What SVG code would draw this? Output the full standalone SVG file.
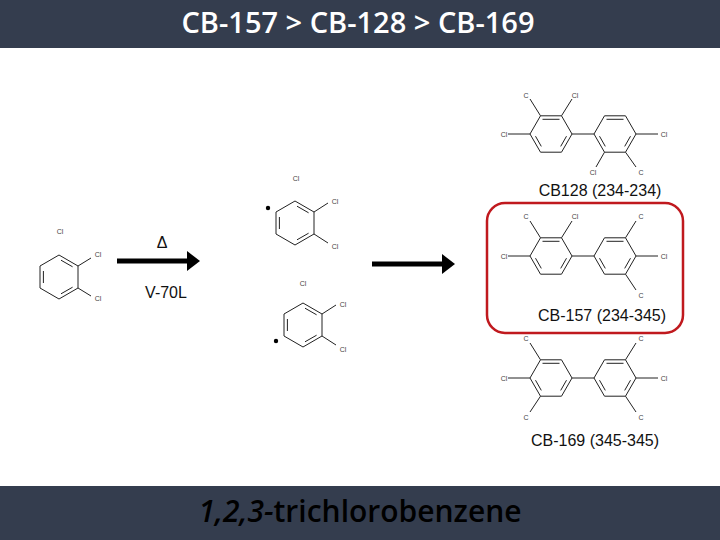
<svg xmlns="http://www.w3.org/2000/svg" xmlns:xlink="http://www.w3.org/1999/xlink" width="720" height="540" viewBox="0 0 720 540">
<style>
.b{stroke:#222;stroke-width:1;fill:none}
.cl{font-family:"Liberation Sans",Arial,sans-serif;font-size:7px;fill:#444;text-anchor:middle}
.lb{font-family:"Liberation Sans",Arial,sans-serif;font-size:16px;fill:#111;text-anchor:middle}
</style>
<defs>
<g id="fr" class="b">
<path d="M-21,0L-10.5,-18.2L10.5,-18.2L21,0L10.5,18.2L-10.5,18.2Z"/>
<path d="M-8.5,-14.7L8.5,-14.7M15.5,2.2L9.7,12.4M-15.5,2.2L-9.7,12.4"/>
</g>
<g id="pr" class="b">
<path d="M0,-22L19,-11L19,11L0,22L-19,11L-19,-11Z"/>
<path d="M2,-16.8L13.6,-10.2M2,16.8L13.6,10.2M-15.6,-6L-15.6,6"/>
</g>
<marker id="ah" markerWidth="4" markerHeight="4" refX="1" refY="2" orient="auto" markerUnits="strokeWidth"><path d="M0,0L2.6,2L0,4Z" fill="#000"/></marker>
</defs>
<rect x="0" y="0" width="720" height="48" fill="#343d4e"/>
<text x="358" y="33" font-family="'Open Sans','Liberation Sans',sans-serif" font-size="29" font-weight="600" fill="#fff" text-anchor="middle">CB-157 &gt; CB-128 &gt; CB-169</text>
<rect x="0" y="486" width="720" height="54" fill="#343d4e"/>
<text x="360" y="522" font-family="'Open Sans','Liberation Sans',sans-serif" font-size="30" font-weight="600" fill="#000" text-anchor="middle"><tspan font-style="italic">1,2,3-</tspan>trichlorobenzene</text>

<g id="connectors">
<line x1="117" y1="261" x2="192" y2="261" stroke="#000" stroke-width="5" marker-end="url(#ah)"/>
<line x1="372" y1="264" x2="447" y2="264" stroke="#000" stroke-width="5" marker-end="url(#ah)"/>
</g>
<g id="arrowlabels">
<text class="lb" x="162" y="248">Δ</text>
<text class="lb" x="166" y="298">V-70L</text>
</g>

<g id="tcb">
<use xlink:href="#pr" x="59" y="277"/>
<path class="b" d="M78,266L91,258M78,288L91,296"/>
<text class="cl" x="60" y="234">Cl</text>
<text class="cl" x="98" y="257">Cl</text>
<text class="cl" x="98" y="301">Cl</text>
</g>

<g id="rad1">
<use xlink:href="#pr" x="295" y="223"/>
<path class="b" d="M314,212L328,203M314,234L328,243"/>
<circle cx="268" cy="208" r="2.2" fill="#000"/>
<text class="cl" x="296" y="181">Cl</text>
<text class="cl" x="335" y="204">Cl</text>
<text class="cl" x="335" y="249">Cl</text>
</g>
<g id="rad2">
<use xlink:href="#pr" x="303" y="325"/>
<path class="b" d="M322,314L336,305M322,336L336,345"/>
<circle cx="276" cy="341" r="2.2" fill="#000"/>
<text class="cl" x="303" y="286">Cl</text>
<text class="cl" x="343" y="307">Cl</text>
<text class="cl" x="343" y="352">Cl</text>
</g>

<g id="cb128">
<use xlink:href="#fr" x="551" y="134"/>
<use xlink:href="#fr" x="615" y="134"/>
<path class="b" d="M572,134L594,134M540.5,115.8L530,99M561.5,115.8L572,99M530,134L508,134M636,134L658,134M604.5,152.2L596,167M625.5,152.2L636,167"/>
<text class="cl" x="526" y="98">C</text>
<text class="cl" x="575" y="98">Cl</text>
<text class="cl" x="504" y="137">Cl</text>
<text class="cl" x="664" y="137">Cl</text>
<text class="cl" x="593" y="175">Cl</text>
<text class="cl" x="641" y="175">C</text>
<text class="lb" x="600" y="196">CB128 (234-234)</text>
</g>

<g id="cb157">
<rect x="487" y="203" width="196" height="130" rx="18" fill="none" stroke="#c0191e" stroke-width="2.5"/>
<use xlink:href="#fr" x="551" y="256"/>
<use xlink:href="#fr" x="615" y="256"/>
<path class="b" d="M572,256L594,256M540.5,237.8L530,221M561.5,237.8L572,221M530,256L508,256M625.5,237.8L636,221M636,256L658,256M625.5,274.2L636,290"/>
<text class="cl" x="526" y="219">C</text>
<text class="cl" x="575" y="219">Cl</text>
<text class="cl" x="504" y="259">Cl</text>
<text class="cl" x="641" y="219">C</text>
<text class="cl" x="664" y="259">Cl</text>
<text class="cl" x="641" y="298">C</text>
<text class="lb" x="602" y="321">CB-157 (234-345)</text>
</g>

<g id="cb169">
<use xlink:href="#fr" x="551" y="378"/>
<use xlink:href="#fr" x="615" y="378"/>
<path class="b" d="M572,378L594,378M540.5,359.8L530,343M530,378L508,378M540.5,396.2L530,412M625.5,359.8L636,343M636,378L658,378M625.5,396.2L636,412"/>
<text class="cl" x="526" y="341">C</text>
<text class="cl" x="504" y="381">Cl</text>
<text class="cl" x="526" y="420">C</text>
<text class="cl" x="641" y="341">C</text>
<text class="cl" x="664" y="381">Cl</text>
<text class="cl" x="641" y="420">C</text>
<text class="lb" x="595" y="446">CB-169 (345-345)</text>
</g>
</svg>
